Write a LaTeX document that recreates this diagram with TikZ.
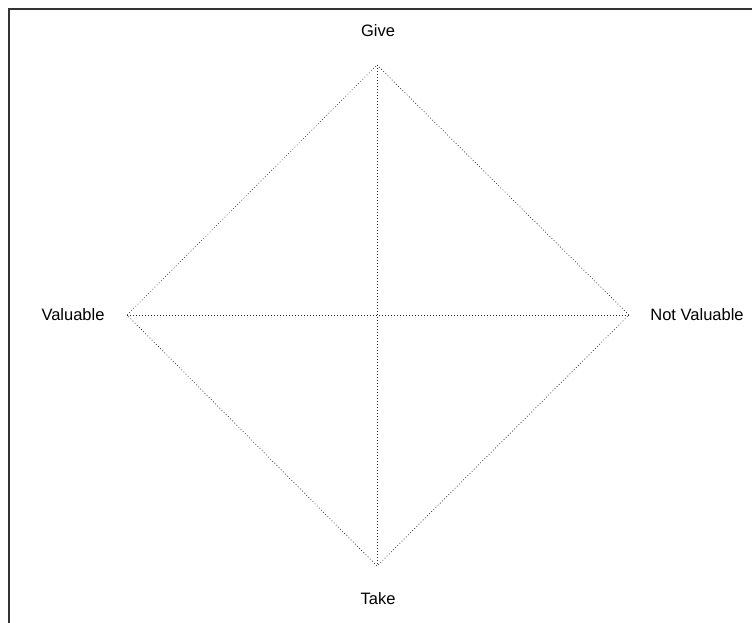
\documentclass[tikz,border=0pt]{standalone}
\usepackage{fontspec}
\setmainfont{Liberation Sans}
\tikzset{
  guide/.style={draw=black!85, line width=0.7pt, dash pattern=on 0.8pt off 2.2pt},
  frameline/.style={draw=black!80, line width=1.6pt},
  lbl/.style={font=\fontsize{16.5}{19}\selectfont, text=black, inner sep=0pt}
}
\begin{document}
\begin{tikzpicture}[x=1pt,y=-1pt]
\useasboundingbox (0,0) rectangle (752,623);
% frame (top and left edges visible)
\coordinate (fc) at (9,9);
\coordinate (fr) at (752,9);
\coordinate (fb) at (9,623);
\draw[frameline] (fr) -- (fc) -- (fb);
% diamond corners
\coordinate (top) at (377,65);
\coordinate (left) at (127,315);
\coordinate (right) at (629,315);
\coordinate (bottom) at (377,566);
\draw[guide] (top) -- (right) -- (bottom) -- (left) -- cycle;
\draw[guide] (top) -- (bottom);
\draw[guide] (left) -- (right);
% labels
\node[lbl] (give) at (378,31) {Give};
\node[lbl] (val) at (73,315) {Valuable};
\node[lbl] (nval) at (697,315) {Not Valuable};
\node[lbl] (take) at (378,599) {Take};
\end{tikzpicture}
\end{document}
